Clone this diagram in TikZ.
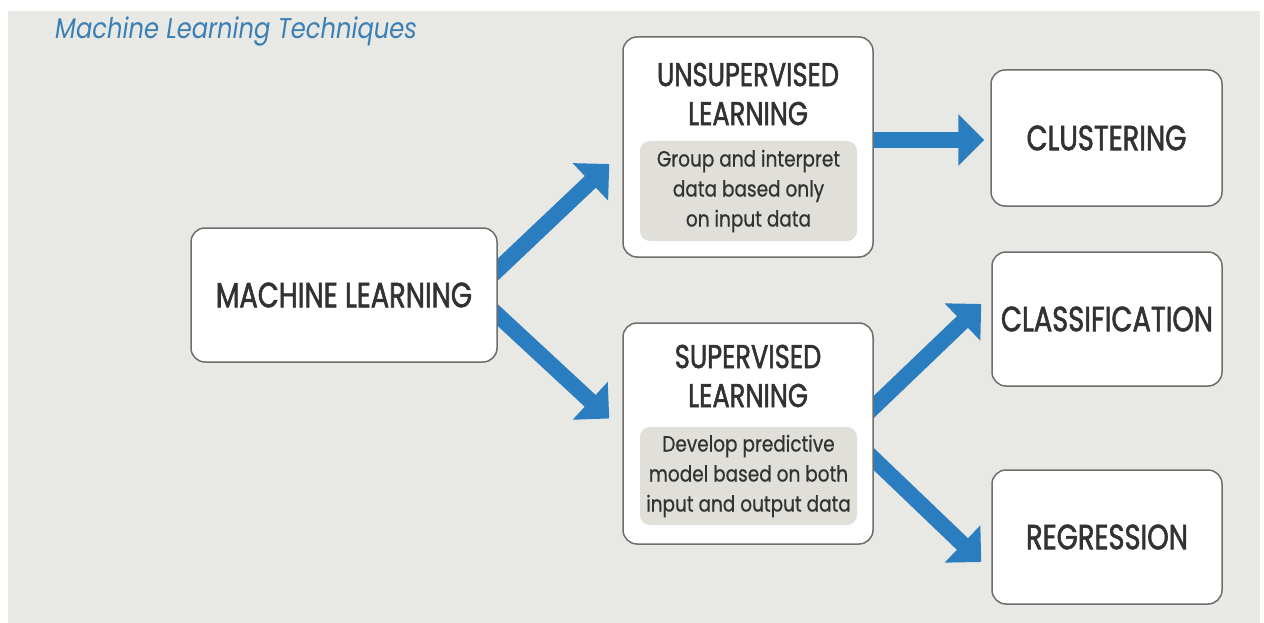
\documentclass[tikz,border=0pt]{standalone}
\usepackage{fontspec}
\setmainfont{Poppins}
\newfontfamily\headfont[FakeStretch=0.78,FakeBold=1.6]{Poppins}
\newfontfamily\descfont[FakeStretch=0.84,FakeBold=0.6]{Poppins}
\newfontfamily\titlefont[FakeStretch=0.85]{Poppins}
\usetikzlibrary{arrows.meta,calc}
\definecolor{bggray}{RGB}{232,232,228}
\definecolor{descgray}{RGB}{224,223,217}
\definecolor{boxline}{RGB}{110,110,110}
\definecolor{txtgray}{RGB}{50,50,50}
\definecolor{arrblue}{RGB}{42,125,190}
\definecolor{titleblue}{RGB}{58,127,181}
\pgfdeclarelayer{back}
\pgfsetlayers{back,main}

\begin{document}
\begin{tikzpicture}[x=1pt,y=-1pt]
        \tikzstyle{box}=[draw=boxline, line width=1.5pt, fill=white, rounded corners=14pt, inner sep=0pt, text=txtgray, font=\headfont\fontsize{35}{39}\selectfont, align=center]
        \tikzstyle{head}=[text=txtgray, font=\headfont\fontsize{33}{39}\selectfont, align=center, inner sep=0pt]
        \tikzstyle{desc}=[fill=descgray, rounded corners=10pt, text=txtgray, font=\descfont\fontsize{22}{30}\selectfont, align=center, inner sep=0pt, minimum width=217pt]
        \tikzstyle{arr}=[draw=arrblue, line width=16pt, -{Triangle[length=26pt,width=50pt]}]
        \useasboundingbox (0,0) rectangle (1264,623);
        \node[anchor=base west, text=titleblue, font=\titlefont\itshape\fontsize{28.5}{30}\selectfont, inner sep=0pt] (title) at (55,39) {Machine Learning Techniques};
        % boxes
        \node[box, minimum width=306pt, minimum height=134pt] (ml) at (344,295) {MACHINE LEARNING};
        \node[box, minimum width=250pt, minimum height=220pt] (unsup) at (748,147) {};
        \node[head] (unsuphead) at (748,94) {UNSUPERVISED\\LEARNING};
        \node[desc, minimum height=100pt] (unsupdesc) at (748.5,191) {Group and interpret\\data based only\\on input data};
        \node[box, minimum width=250pt, minimum height=221pt] (sup) at (748,433.5) {};
        \node[head] (suphead) at (748,376) {SUPERVISED\\LEARNING};
        \node[desc, minimum height=98pt] (supdesc) at (748.5,476) {Develop predictive\\model based on both\\input and output data};
        \node[box, minimum width=231pt, minimum height=136pt] (clust) at (1106.5,138) {CLUSTERING};
        \node[box, minimum width=230pt, minimum height=134pt] (class) at (1107,319) {CLASSIFICATION};
        \node[box, minimum width=230pt, minimum height=134pt] (regr) at (1107,537) {REGRESSION};
        % arrows behind the boxes
        \begin{pgfonlayer}{back}
        \fill[bggray] (8,11) rectangle (1260,623);
        \draw[arr] ($(ml.east)+(-12,-14)$) -- ($(unsup.west)+(-13,17)$);
        \draw[arr] ($(ml.east)+(-12,9)$) -- ($(sup.west)+(-13,-15)$);
        \draw[arr] ($(unsup.east)+(-10,-7)$) -- ($(clust.west)+(-6,2)$);
        \draw[arr] ($(sup.east)+(-10,-17)$) -- ($(class.west)+(-10,-15)$);
        \draw[arr] ($(sup.east)+(-10,16)$) -- ($(regr.west)+(-10,25)$);
        \end{pgfonlayer}
\end{tikzpicture}
\end{document}
